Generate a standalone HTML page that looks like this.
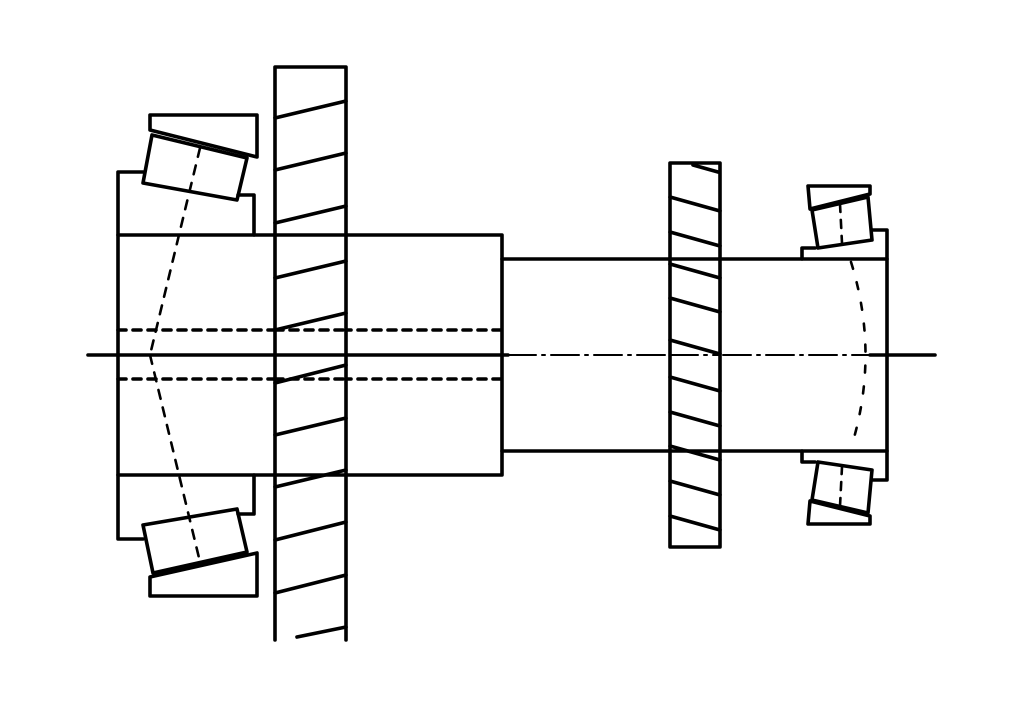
<!DOCTYPE html>
<html><head><style>html,body{margin:0;padding:0;background:#fff}svg{display:block}</style></head>
<body>
<svg width="1024" height="701" viewBox="0 0 1024 701" xmlns="http://www.w3.org/2000/svg">
<g fill="none" stroke="#000" stroke-width="3.6" stroke-linejoin="round" stroke-linecap="round">
<rect x="118" y="235" width="384" height="240" fill="#fff"/>
<polyline points="502,259 887,259 887,451 502,451"/>
<line x1="118" y1="330" x2="502" y2="330" stroke-dasharray="8,7"/>
<line x1="118" y1="379" x2="502" y2="379" stroke-dasharray="8,7"/>
<line x1="88" y1="355" x2="508" y2="355"/>
<line x1="508" y1="355" x2="870" y2="355" stroke-width="2" stroke-dasharray="28,6,3,6"/>
<line x1="870" y1="355" x2="935" y2="355"/>
<polyline points="275,640 275,67 346,67 346,640" fill="#fff"/>
<line x1="275" y1="235" x2="346" y2="235"/>
<line x1="275" y1="475" x2="346" y2="475"/>
<line x1="275" y1="330" x2="346" y2="330" stroke-dasharray="8,7"/>
<line x1="275" y1="379" x2="346" y2="379" stroke-dasharray="8,7"/>
<line x1="275" y1="355" x2="346" y2="355"/>
<g>
<line x1="275" y1="118" x2="346" y2="101"/>
<line x1="275" y1="170" x2="346" y2="153"/>
<line x1="275" y1="223" x2="346" y2="206"/>
<line x1="275" y1="278" x2="346" y2="261"/>
<line x1="275" y1="330" x2="346" y2="313"/>
<line x1="275" y1="383" x2="346" y2="365"/>
<line x1="275" y1="435" x2="346" y2="418"/>
<line x1="275" y1="487" x2="346" y2="470"/>
<line x1="275" y1="540" x2="346" y2="522"/>
<line x1="275" y1="593" x2="346" y2="575"/>
<line x1="297" y1="637" x2="346" y2="627"/>
</g>
<polyline points="118,235 118,172 143,172"/>
<polyline points="238,195 254,195 254,235"/>
<polygon points="152,135 247,158 237,200 143,183"/>
<polygon points="150,115 257,115 257,157 150,130"/>
<polyline points="118,475 118,539 143,539"/>
<polyline points="238,514 254,514 254,475"/>
<polygon points="143,525 237,509 247,552 153,573"/>
<polygon points="150,577 257,553 257,596 150,596"/>
<line x1="200" y1="148" x2="150" y2="355" stroke-width="2.6" stroke-dasharray="9,9"/>
<line x1="150" y1="355" x2="200" y2="562" stroke-width="2.6" stroke-dasharray="9,9"/>
<rect x="670" y="163" width="50" height="384" fill="#fff"/>
<line x1="670" y1="259" x2="720" y2="259"/>
<line x1="670" y1="451" x2="720" y2="451"/>
<line x1="670" y1="355" x2="720" y2="355" stroke-width="2" stroke-dasharray="28,6,3,6"/>
<g>
<line x1="693" y1="165" x2="718" y2="172"/>
<line x1="670" y1="197" x2="720" y2="211"/>
<line x1="670" y1="232" x2="720" y2="246"/>
<line x1="670" y1="264" x2="720" y2="278"/>
<line x1="670" y1="298" x2="720" y2="312"/>
<line x1="670" y1="340" x2="720" y2="354"/>
<line x1="670" y1="377" x2="720" y2="391"/>
<line x1="670" y1="412" x2="720" y2="426"/>
<line x1="670" y1="446" x2="720" y2="460"/>
<line x1="670" y1="481" x2="720" y2="495"/>
<line x1="670" y1="516" x2="720" y2="530"/>
</g>
<polygon points="808,186 870,186 870,194 810,209"/>
<polygon points="812,210 868,197 872,240 818,248"/>
<polyline points="802,259 802,248 815,248"/>
<polyline points="872,230 887,230 887,259"/>
<line x1="840" y1="204" x2="842" y2="243" stroke-width="2.6" stroke-dasharray="8,8"/>
<polygon points="808,524 870,524 870,516 810,501"/>
<polygon points="812,500 868,513 872,470 818,462"/>
<polyline points="802,451 802,462 815,462"/>
<polyline points="872,480 887,480 887,451"/>
<line x1="840" y1="506" x2="842" y2="467" stroke-width="2.6" stroke-dasharray="8,8"/>
<path d="M851,262 Q880,355 851,448" stroke-width="2.6" stroke-dasharray="7,14"/>
</g>
</svg>
</body></html>
